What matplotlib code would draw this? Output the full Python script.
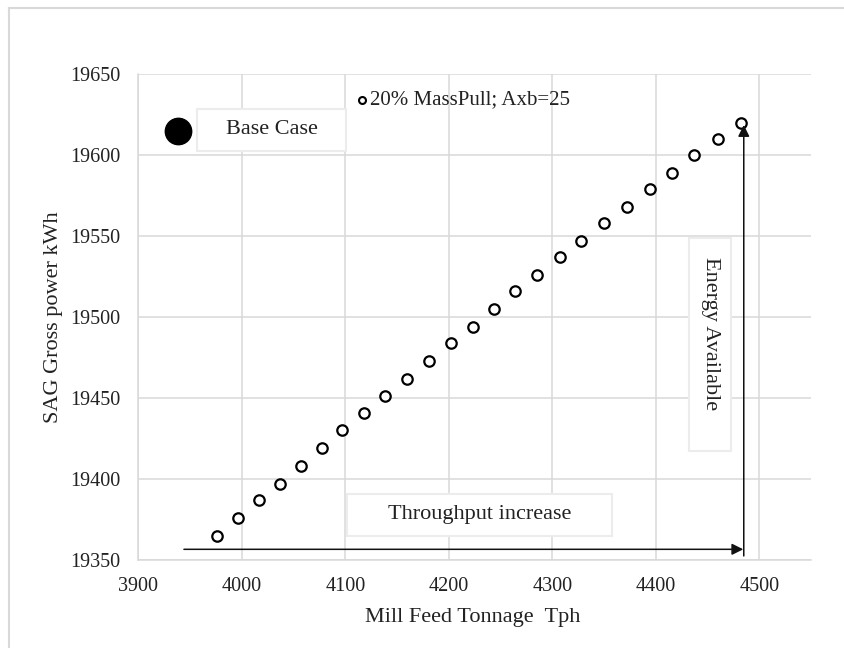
import matplotlib
matplotlib.use("Agg")
import matplotlib.pyplot as plt
from matplotlib.patches import Rectangle
from matplotlib.lines import Line2D

# Mill feed tonnage (t/h) and SAG gross power (kWh), 20% mass pull, Axb = 25
tonnage = [3976, 3996, 4017, 4037, 4057, 4077, 4097, 4118, 4138, 4160,
           4181, 4202, 4223, 4244, 4264, 4285, 4307, 4328, 4350, 4372,
           4394, 4416, 4437, 4460, 4482]
power = [19365, 19376, 19387, 19397, 19408, 19419, 19430, 19441, 19451, 19462,
         19473, 19484, 19494, 19505, 19516, 19526, 19537, 19547, 19558, 19568,
         19579, 19589, 19600, 19610, 19620]

base_case_x = [3938]
base_case_y = [19615]

x_ticks = [3900, 4000, 4100, 4200, 4300, 4400, 4500]
y_ticks = [19350, 19400, 19450, 19500, 19550, 19600, 19650]

series_label = "20% MassPull; Axb=25"
base_label = "Base Case"
x_label = "Mill Feed Tonnage  Tph"
y_label = "SAG Gross power kWh"

plt.rcParams['font.family'] = ['Liberation Serif', 'DejaVu Serif']

grid_c = '#d9d9d9'
text_c = '#222222'

fig = plt.figure(figsize=(8.45, 6.48), dpi=100)
ax = fig.add_axes([0.1638, 0.1358, 0.796, 0.750])

# chart frame (top and left edges)
fig.add_artist(Line2D([9/845, 1.0], [1 - 8/648, 1 - 8/648], color=grid_c, lw=1.5))
fig.add_artist(Line2D([9/845, 9/845], [0, 1 - 8/648], color=grid_c, lw=1.5))

ax.set_xlim(3900, 4550)
ax.set_ylim(19350, 19650)
ax.set_xticks(x_ticks)
ax.set_yticks(y_ticks)
ax.grid(True, color=grid_c, lw=1.1)
ax.set_axisbelow(True)
for s in ['top', 'right']:
    ax.spines[s].set_visible(False)
for s in ['left', 'bottom']:
    ax.spines[s].set_color(grid_c)
    ax.spines[s].set_linewidth(1.1)
ax.tick_params(axis='both', length=0, labelsize=14.5, colors=text_c)
ax.tick_params(axis='y', pad=13)
ax.tick_params(axis='x', pad=12)

ax.set_xlabel(x_label, fontsize=16, color=text_c)
ax.set_ylabel(y_label, fontsize=16, color=text_c)
ax.xaxis.set_label_coords(0.497, -0.098)
ax.yaxis.set_label_coords(-0.112, 0.5)

# data series
ax.plot(tonnage, power, linestyle='none', marker='o', markersize=7.5,
        markerfacecolor='white', markeredgecolor='black', markeredgewidth=1.6,
        zorder=4)
ax.plot(base_case_x, base_case_y, linestyle='none', marker='o', markersize=19,
        color='black', zorder=4, clip_on=False)

# series key
ax.plot([0.333], [0.9465], transform=ax.transAxes, linestyle='none', marker='o',
        markersize=5, markerfacecolor='white', markeredgecolor='black',
        markeredgewidth=1.5, clip_on=False)
ax.text(0.345, 0.9465, series_label, transform=ax.transAxes, fontsize=15,
        color=text_c, ha='left', va='center')

# annotation boxes
def label_box(x0, x1, y0, y1, txt, rot=0, ty=None):
    ax.add_patch(Rectangle((x0, y0), x1 - x0, y1 - y0, facecolor='white',
                           edgecolor='#ececec', lw=1.5, zorder=3))
    ty = (y0 + y1) / 2 if ty is None else ty
    ax.text((x0 + x1) / 2, ty, txt, fontsize=16, color=text_c,
            ha='center', va='center', rotation=rot, zorder=5)

label_box(3957, 4101, 19602.5, 19628.5, base_label)
label_box(4102, 4358, 19365, 19391, "Throughput increase")
label_box(4432, 4473, 19417, 19549, "Energy Available", rot=270, ty=19490)

# arrows
arrow_kw = dict(arrowstyle='-|>', mutation_scale=17, lw=1.1, color='#111111',
                shrinkA=0, shrinkB=0)
ax.annotate('', xy=(4484.5, 19356.6), xytext=(3944, 19356.6),
            arrowprops=arrow_kw, zorder=6)
ax.annotate('', xy=(4485, 19618.5), xytext=(4485, 19352.5),
            arrowprops=arrow_kw, zorder=6)

fig.savefig('out.png', dpi=100, facecolor='white')
